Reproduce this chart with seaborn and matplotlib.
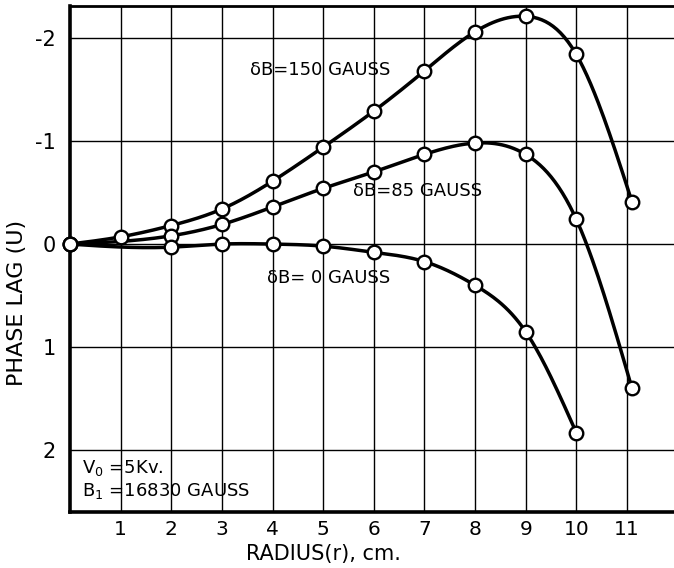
import numpy as np
import pandas as pd
import seaborn as sns
import matplotlib.pyplot as plt

# radius (cm) and phase lag (U)
r_150 = [0, 1, 2, 3, 4, 5, 6, 7, 8, 9, 10, 11.1]
lag_150 = [0.0, -0.07, -0.18, -0.34, -0.61, -0.94, -1.29, -1.68, -2.06, -2.21, -1.84, -0.41]

r_85 = [0, 2, 3, 4, 5, 6, 7, 8, 9, 10, 11.1]
lag_85 = [0.0, -0.08, -0.19, -0.36, -0.54, -0.70, -0.87, -0.98, -0.87, -0.24, 1.40]

r_0 = [0, 2, 3, 4, 5, 6, 7, 8, 9, 10]
lag_0 = [0.0, 0.03, 0.0, 0.0, 0.02, 0.08, 0.17, 0.40, 0.85, 1.83]

x_ticks = [1, 2, 3, 4, 5, 6, 7, 8, 9, 10, 11]
y_ticks = [-2, -1, 0, 1, 2]


def natural_spline(x, y, n=300):
    # plain natural cubic spline so the drawn curve is smooth like the original
    x = np.asarray(x, float)
    y = np.asarray(y, float)
    k = len(x)
    h = np.diff(x)
    A = np.zeros((k, k))
    b = np.zeros(k)
    A[0, 0] = A[-1, -1] = 1
    for i in range(1, k - 1):
        A[i, i - 1] = h[i - 1]
        A[i, i] = 2 * (h[i - 1] + h[i])
        A[i, i + 1] = h[i]
        b[i] = 3 * ((y[i + 1] - y[i]) / h[i] - (y[i] - y[i - 1]) / h[i - 1])
    c = np.linalg.solve(A, b)
    xs = np.linspace(x[0], x[-1], n)
    idx = np.clip(np.searchsorted(x, xs) - 1, 0, k - 2)
    dx = xs - x[idx]
    bb = (y[idx + 1] - y[idx]) / h[idx] - h[idx] * (2 * c[idx] + c[idx + 1]) / 3
    d = (c[idx + 1] - c[idx]) / (3 * h[idx])
    ys = y[idx] + bb * dx + c[idx] * dx ** 2 + d * dx ** 3
    return xs, ys


sns.set_style('white')
plt.rcParams['font.family'] = ['DejaVu Sans']
plt.rcParams['mathtext.default'] = 'regular'
plt.rcParams['axes.unicode_minus'] = False
plt.rcParams['text.color'] = 'black'
plt.rcParams['axes.labelcolor'] = 'black'

fig = plt.figure(figsize=(6.74, 5.68), dpi=100)
ax = fig.add_axes([70 / 674, 1 - 512 / 568, 1 - 70 / 674, (512 - 6) / 568])

curves = []
points = []
for name, xr, yr in [('150', r_150, lag_150), ('85', r_85, lag_85), ('0', r_0, lag_0)]:
    xs, ys = natural_spline(xr, yr)
    curves.append(pd.DataFrame({'r': xs, 'lag': ys, 'dB': name}))
    points.append(pd.DataFrame({'r': xr, 'lag': yr, 'dB': name}))
curves = pd.concat(curves)
points = pd.concat(points)

for v in x_ticks:
    ax.axvline(v, color='black', lw=1.0, zorder=0)
for v in y_ticks:
    ax.axhline(v, color='black', lw=1.0, zorder=0)

sns.lineplot(data=curves, x='r', y='lag', units='dB', estimator=None, sort=False,
             color='black', lw=2.5, ax=ax, zorder=2)
sns.scatterplot(data=points, x='r', y='lag', s=95, color='white', edgecolor='black',
                linewidth=1.7, ax=ax, zorder=3, clip_on=False)

ax.set_xlim(0, 11.93)
ax.set_ylim(2.6, -2.31)
ax.set_xticks(x_ticks)
ax.set_yticks(y_ticks)
ax.tick_params(length=0, labelsize=15, colors='black')
ax.tick_params(axis='x', pad=6, labelsize=14.5)
ax.tick_params(axis='y', pad=10)

for s in ['left', 'bottom']:
    ax.spines[s].set_linewidth(2.6)
    ax.spines[s].set_color('black')
ax.spines['top'].set_linewidth(2.0)
ax.spines['top'].set_color('black')
ax.spines['right'].set_visible(False)

ax.set_xlabel('RADIUS(r), cm.', fontsize=15)
ax.xaxis.set_label_coords(0.419, -0.064)
ax.set_ylabel('PHASE LAG (U)', fontsize=16)
ax.yaxis.set_label_coords(-0.071, 0.413)

ax.text(3.56, -1.69, 'δB=150 GAUSS', fontsize=13, va='center', ha='left')
ax.text(5.59, -0.51, 'δB=85 GAUSS', fontsize=13, va='center', ha='left')
ax.text(3.89, 0.33, 'δB= 0 GAUSS', fontsize=13, va='center', ha='left')
ax.text(0.24, 2.17, 'V$_0$ =5Kv.', fontsize=13, va='center', ha='left')
ax.text(0.24, 2.40, 'B$_1$ =16830 GAUSS', fontsize=13, va='center', ha='left')

fig.savefig('out.png', dpi=100)
